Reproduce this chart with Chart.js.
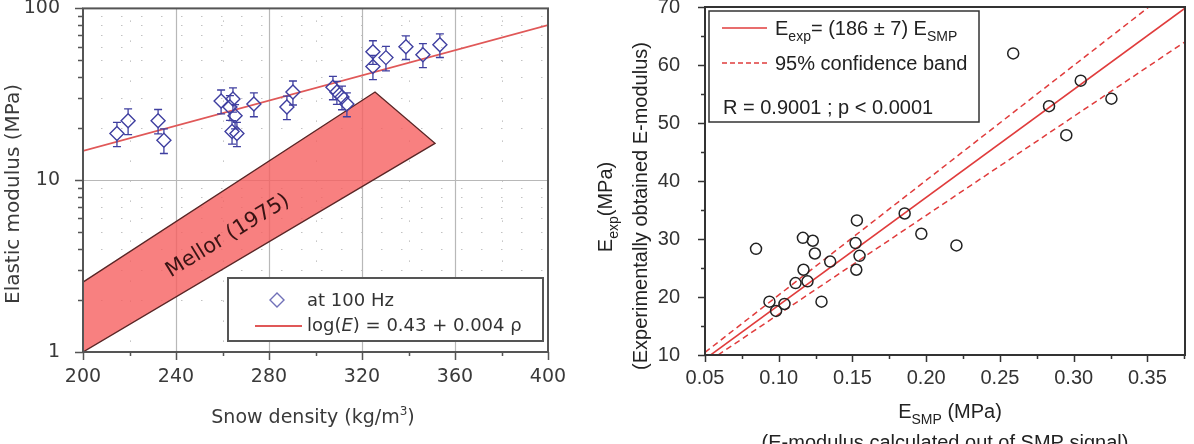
<!DOCTYPE html>
<html><head><meta charset="utf-8">
<script src="https://cdn.jsdelivr.net/npm/chart.js@4.4.0/dist/chart.umd.min.js"></script>
<style>
html,body{margin:0;padding:0;background:#fff;overflow:hidden;}
#wrapL{position:absolute;left:0;top:0;width:590px;height:444px;}
#wrapR{position:absolute;left:590px;top:0;width:604px;height:444px;}
canvas{display:block;}
</style></head><body>
<div id="wrapL"><canvas id="cL" width="590" height="444"></canvas></div>
<div id="wrapR"><canvas id="cR" width="604" height="444"></canvas></div>
<script>
// ---------- Left panel data ----------
const densityTicks = [200, 240, 280, 320, 360, 400];
const densityMinorTicks = [220, 260, 300, 340, 380];
const modulusTicks = [1, 10, 100];
const modulusMinorTicks = [2, 3, 4, 5, 6, 7, 8, 9, 20, 30, 40, 50, 60, 70, 80, 90];
const density = [214.6, 219.4, 232.3, 234.8, 259.4, 264.5, 263.2, 265.4, 264.1, 266.2, 273.5, 287.7, 290.3, 307.5, 309.2, 311.4, 313.5, 324.7, 324.7, 330.3, 338.9, 346.2, 353.5];
const modulus = [18.7, 22.2, 22.2, 17.1, 28.9, 29.7, 26.7, 23.7, 19.2, 18.7, 27.8, 26.7, 32.6, 34.8, 32.6, 30.5, 27.8, 56.0, 45.9, 51.7, 59.8, 53.8, 61.4];
const modulusErr = [3.0, 3.8, 3.6, 2.8, 4.6, 4.8, 4.4, 3.8, 3.0, 3.0, 4.4, 4.2, 5.2, 5.4, 5.0, 4.8, 4.4, 8.8, 7.4, 8.4, 9.4, 8.6, 9.6];
const fitDensity = [200, 400];
const fitModulus = [14.8, 80];
const mellorDensity = [200, 200, 325.6, 351.4, 200];
const mellorModulus = [1, 2.55, 32.6, 16.4, 1];

// ---------- Right panel data ----------
const smpTicks = [0.05, 0.10, 0.15, 0.20, 0.25, 0.30, 0.35];
const smpMinorTicks = [0.075, 0.125, 0.175, 0.225, 0.275, 0.325, 0.375];
const expTicks = [10, 20, 30, 40, 50, 60, 70];
const expMinorTicks = [15, 25, 35, 45, 55, 65];
const eSmp = [0.0846, 0.0937, 0.0982, 0.1039, 0.1114, 0.1168, 0.1195, 0.1164, 0.1231, 0.1245, 0.1290, 0.1349, 0.1530, 0.1521, 0.1548, 0.1526, 0.1854, 0.1967, 0.2205, 0.2590, 0.2833, 0.3048, 0.2950, 0.3256];
const eExp = [28.3, 19.2, 17.6, 18.8, 22.4, 24.7, 22.7, 30.2, 29.7, 27.5, 19.2, 26.1, 33.2, 29.3, 27.1, 24.7, 34.4, 30.9, 28.9, 62.0, 52.9, 57.3, 47.9, 54.2];
const fitSmp = [0.05, 0.3755];
const fitExp = [9.3, 69.8];
const bandUpperSmp = [0.05, 0.351];
const bandUpperExp = [10.45, 70];
const bandLowerSmp = [0.0588, 0.3755];
const bandLowerExp = [10, 64.0];

const FONT_L = '"DejaVu Sans", sans-serif';
const FONT_R = '"Liberation Sans", Arial, sans-serif';

function pts(xs, ys) { return xs.map((v, i) => ({x: v, y: ys[i]})); }

function drawRich(ctx, parts, x, y, align, family, color) {
  ctx.textBaseline = 'alphabetic';
  ctx.textAlign = 'left';
  ctx.fillStyle = color;
  let total = 0;
  const widths = parts.map(p => { ctx.font = (p.style || '') + ' ' + p.size + 'px ' + family; const w = ctx.measureText(p.t).width; total += w; return w; });
  let cx = align === 'center' ? x - total / 2 : x;
  parts.forEach((p, i) => {
    ctx.font = (p.style || '') + ' ' + p.size + 'px ' + family;
    ctx.fillText(p.t, cx, y + (p.dy || 0));
    cx += widths[i];
  });
  return total;
}

function fixScale(w, h) {
  return function (s) {
    if (w !== null) s.width = w;
    if (h !== null) s.height = h;
    s.paddingTop = 0; s.paddingBottom = 0; s.paddingLeft = 0; s.paddingRight = 0;
  };
}

function tickMarksX(ctx, scale, values, yStart, len) {
  ctx.beginPath();
  for (const v of values) {
    const px = Math.round(scale.getPixelForValue(v)) + 0.5;
    ctx.moveTo(px, yStart); ctx.lineTo(px, yStart + len);
  }
  ctx.stroke();
}
function tickMarksY(ctx, scale, values, xStart, len) {
  ctx.beginPath();
  for (const v of values) {
    const py = Math.round(scale.getPixelForValue(v)) + 0.5;
    ctx.moveTo(xStart, py); ctx.lineTo(xStart - len, py);
  }
  ctx.stroke();
}

// ---------- Left decorations ----------
const leftDeco = {
  id: 'leftDeco',
  beforeDatasetsDraw(chart) {
    const {ctx, chartArea: a, scales: {x, y}} = chart;
    ctx.save();
    ctx.strokeStyle = '#c2c2c2'; ctx.lineWidth = 1; ctx.setLineDash([1.5, 18.5]);
    ctx.beginPath();
    for (const v of modulusMinorTicks) {
      const py = Math.round(y.getPixelForValue(v)) + 0.5;
      ctx.moveTo(a.left + 18, py); ctx.lineTo(a.right, py);
    }
    for (const v of densityMinorTicks) {
      const px = Math.round(x.getPixelForValue(v)) + 0.5;
      ctx.moveTo(px, a.top + 12); ctx.lineTo(px, a.bottom);
    }
    ctx.stroke();
    ctx.setLineDash([]);
    ctx.strokeStyle = '#b8b8b8'; ctx.lineWidth = 1.2;
    ctx.beginPath();
    for (const v of densityTicks.slice(1, -1)) {
      const px = Math.round(x.getPixelForValue(v)) + 0.5;
      ctx.moveTo(px, a.top); ctx.lineTo(px, a.bottom);
    }
    const py10 = Math.round(y.getPixelForValue(10)) + 0.5;
    ctx.moveTo(a.left, py10); ctx.lineTo(a.right, py10);
    ctx.stroke();
    ctx.restore();
  },
  afterDatasetsDraw(chart) {
    const {ctx, scales: {x, y}} = chart;
    ctx.save();
    ctx.strokeStyle = '#3f3fa0'; ctx.lineWidth = 1.3;
    ctx.beginPath();
    density.forEach((d, i) => {
      const px = x.getPixelForValue(d);
      const pc = y.getPixelForValue(modulus[i]);
      const pt = y.getPixelForValue(modulus[i] + modulusErr[i]);
      const pb = y.getPixelForValue(modulus[i] - modulusErr[i]);
      ctx.moveTo(px, pt); ctx.lineTo(px, pc - 7);
      ctx.moveTo(px, pc + 7); ctx.lineTo(px, pb);
      ctx.moveTo(px - 4, pt); ctx.lineTo(px + 4, pt);
      ctx.moveTo(px - 4, pb); ctx.lineTo(px + 4, pb);
    });
    ctx.stroke();
    ctx.restore();
  },
  afterDraw(chart) {
    const {ctx, chartArea: a, scales: {x, y}} = chart;
    ctx.save();
    // frame
    ctx.strokeStyle = '#555'; ctx.lineWidth = 2;
    ctx.strokeRect(a.left, a.top, a.right - a.left, a.bottom - a.top);
    // ticks
    ctx.lineWidth = 1.5; ctx.strokeStyle = '#555';
    tickMarksX(ctx, x, densityTicks, a.bottom, 8);
    tickMarksX(ctx, x, densityMinorTicks, a.bottom, 4);
    tickMarksY(ctx, y, modulusTicks, a.left, 8);
    tickMarksY(ctx, y, modulusMinorTicks, a.left, 5);
    // Mellor label
    ctx.save();
    ctx.translate(228, 236);
    ctx.rotate(-31.5 * Math.PI / 180);
    ctx.font = '21px ' + FONT_L;
    ctx.fillStyle = '#3a1414';
    ctx.textAlign = 'center'; ctx.textBaseline = 'middle';
    ctx.fillText('Mellor (1975)', 0, 0);
    ctx.restore();
    // legend
    ctx.fillStyle = '#fff';
    ctx.fillRect(228, 278, 315, 63);
    ctx.strokeStyle = '#555'; ctx.lineWidth = 2;
    ctx.strokeRect(228, 278, 315, 63);
    ctx.strokeStyle = '#7070b8'; ctx.lineWidth = 1.4;
    ctx.beginPath();
    ctx.moveTo(270, 300); ctx.lineTo(277, 293); ctx.lineTo(284, 300); ctx.lineTo(277, 307); ctx.closePath();
    ctx.stroke();
    ctx.strokeStyle = '#e05858'; ctx.lineWidth = 2;
    ctx.beginPath(); ctx.moveTo(255, 326); ctx.lineTo(302, 326); ctx.stroke();
    drawRich(ctx, [{t: 'at 100 Hz', size: 18}], 307, 306, 'left', FONT_L, '#333');
    drawRich(ctx, [{t: 'log(', size: 18}, {t: 'E', size: 18, style: 'italic'}, {t: ') = 0.43 + 0.004 \u03c1', size: 18}], 307, 331, 'left', FONT_L, '#333');
    // axis titles
    drawRich(ctx, [{t: 'Snow density (kg/m', size: 19}, {t: '3', size: 12, dy: -8}, {t: ')', size: 19}], 313, 423, 'center', FONT_L, '#3a3a3a');
    ctx.save();
    ctx.translate(19, 194);
    ctx.rotate(-Math.PI / 2);
    drawRich(ctx, [{t: 'Elastic modulus (MPa)', size: 20}], 0, 0, 'center', FONT_L, '#3a3a3a');
    ctx.restore();
    ctx.restore();
  }
};

new Chart(document.getElementById('cL'), {
  type: 'scatter',
  data: {
    datasets: [
      { label: 'at 100 Hz', data: pts(density, modulus), pointStyle: 'rectRot', pointRadius: 7,
        pointBorderColor: '#3f3fa0', pointBorderWidth: 1.4, pointBackgroundColor: 'rgba(255,255,255,0)', order: 0 },
      { label: 'log(E) = 0.43 + 0.004 \u03c1', data: pts(fitDensity, fitModulus), showLine: true,
        borderColor: '#e05858', borderWidth: 1.6, pointRadius: 0, order: 1 },
      { label: 'Mellor (1975)', data: pts(mellorDensity, mellorModulus), showLine: true, fill: 'shape',
        backgroundColor: 'rgba(246,96,96,0.8)', borderColor: '#5a2626', borderWidth: 1.4, pointRadius: 0, order: 2 }
    ]
  },
  options: {
    responsive: false, animation: false, events: [],
    layout: { padding: { left: 0, right: 42, top: 3, bottom: 0 } },
    plugins: { legend: { display: false }, tooltip: { enabled: false } },
    scales: {
      x: {
        type: 'linear', min: 200, max: 400,
        afterFit: fixScale(null, 92),
        afterBuildTicks(s) { s.ticks = densityTicks.map(v => ({value: v})); },
        ticks: { font: { family: FONT_L, size: 19 }, color: '#3a3a3a', padding: 6, maxRotation: 0, autoSkip: false,
                 callback: v => String(v) },
        grid: { display: false }, border: { display: false }
      },
      y: {
        type: 'logarithmic', min: 1, max: 100,
        afterFit: fixScale(83, null),
        afterBuildTicks(s) { s.ticks = modulusTicks.map(v => ({value: v})); },
        ticks: { font: { family: FONT_L, size: 19 }, color: '#3a3a3a', padding: 15, autoSkip: false,
                 callback: v => String(v) },
        grid: { display: false }, border: { display: false }
      }
    }
  },
  plugins: [leftDeco]
});

// ---------- Right decorations ----------
const rightDeco = {
  id: 'rightDeco',
  afterDraw(chart) {
    const {ctx, chartArea: a, scales: {x, y}} = chart;
    ctx.save();
    ctx.strokeStyle = '#333'; ctx.lineWidth = 2;
    ctx.strokeRect(a.left, a.top, a.right - a.left, a.bottom - a.top);
    ctx.lineWidth = 1.5;
    tickMarksX(ctx, x, smpTicks, a.bottom, 7);
    tickMarksX(ctx, x, smpMinorTicks, a.bottom, 4);
    tickMarksY(ctx, y, expTicks, a.left, 7);
    tickMarksY(ctx, y, expMinorTicks, a.left, 4);
    // legend
    ctx.fillStyle = '#fff';
    ctx.fillRect(119, 11, 270, 111);
    ctx.strokeStyle = '#333'; ctx.lineWidth = 1.5;
    ctx.strokeRect(119, 11, 270, 111);
    ctx.strokeStyle = '#e03c3c'; ctx.lineWidth = 1.6;
    ctx.beginPath(); ctx.moveTo(132, 28); ctx.lineTo(177, 28); ctx.stroke();
    ctx.setLineDash([5, 3]);
    ctx.beginPath(); ctx.moveTo(132, 63); ctx.lineTo(177, 63); ctx.stroke();
    ctx.setLineDash([]);
    drawRich(ctx, [{t: 'E', size: 20}, {t: 'exp', size: 14, dy: 6}, {t: '= (186 \u00b1 7) E', size: 20}, {t: 'SMP', size: 14, dy: 6}], 185, 35, 'left', FONT_R, '#222');
    drawRich(ctx, [{t: '95% confidence band', size: 20}], 185, 70, 'left', FONT_R, '#222');
    drawRich(ctx, [{t: 'R = 0.9001 ; p < 0.0001', size: 20}], 133, 114, 'left', FONT_R, '#222');
    // axis titles
    drawRich(ctx, [{t: 'E', size: 20}, {t: 'SMP', size: 14, dy: 6}, {t: ' (MPa)', size: 20}], 360, 418, 'center', FONT_R, '#222');
    drawRich(ctx, [{t: '(E-modulus calculated out of SMP signal)', size: 20}], 355, 449, 'center', FONT_R, '#222');
    ctx.save();
    ctx.translate(22, 207);
    ctx.rotate(-Math.PI / 2);
    drawRich(ctx, [{t: 'E', size: 20}, {t: 'exp', size: 14, dy: 6}, {t: '(MPa)', size: 20}], 0, 0, 'center', FONT_R, '#222');
    ctx.restore();
    ctx.save();
    ctx.translate(57, 206);
    ctx.rotate(-Math.PI / 2);
    drawRich(ctx, [{t: '(Experimentally obtained E-modulus)', size: 20}], 0, 0, 'center', FONT_R, '#222');
    ctx.restore();
    ctx.restore();
  }
};

new Chart(document.getElementById('cR'), {
  type: 'scatter',
  data: {
    datasets: [
      { label: 'data', data: pts(eSmp, eExp), pointStyle: 'circle', pointRadius: 5.5,
        pointBorderColor: '#222', pointBorderWidth: 1.5, pointBackgroundColor: 'rgba(255,255,255,0)', order: 0 },
      { label: 'E_exp = (186 \u00b1 7) E_SMP', data: pts(fitSmp, fitExp), showLine: true,
        borderColor: '#e03c3c', borderWidth: 1.6, pointRadius: 0, order: 1 },
      { label: '95% confidence band', data: pts(bandUpperSmp, bandUpperExp), showLine: true, borderDash: [6, 4],
        borderColor: '#e03c3c', borderWidth: 1.5, pointRadius: 0, order: 2 },
      { label: '95% confidence band (lower)', data: pts(bandLowerSmp, bandLowerExp), showLine: true, borderDash: [6, 4],
        borderColor: '#e03c3c', borderWidth: 1.5, pointRadius: 0, order: 2 }
    ]
  },
  options: {
    responsive: false, animation: false, events: [],
    layout: { padding: { left: 0, right: 9, top: 3, bottom: 0 } },
    plugins: { legend: { display: false }, tooltip: { enabled: false } },
    scales: {
      x: {
        type: 'linear', min: 0.05, max: 0.3755,
        afterFit: fixScale(null, 89),
        afterBuildTicks(s) { s.ticks = smpTicks.map(v => ({value: v})); },
        ticks: { font: { family: FONT_R, size: 20 }, color: '#333', padding: 3, maxRotation: 0, autoSkip: false,
                 callback: v => Number(v).toFixed(2) },
        grid: { display: false }, border: { display: false }
      },
      y: {
        type: 'linear', min: 10, max: 70,
        afterFit: fixScale(115, null),
        afterBuildTicks(s) { s.ticks = expTicks.map(v => ({value: v})); },
        ticks: { font: { family: FONT_R, size: 20 }, color: '#333', padding: 17, autoSkip: false,
                 callback: v => String(v) },
        grid: { display: false }, border: { display: false }
      }
    }
  },
  plugins: [rightDeco]
});
</script>
</body></html>
